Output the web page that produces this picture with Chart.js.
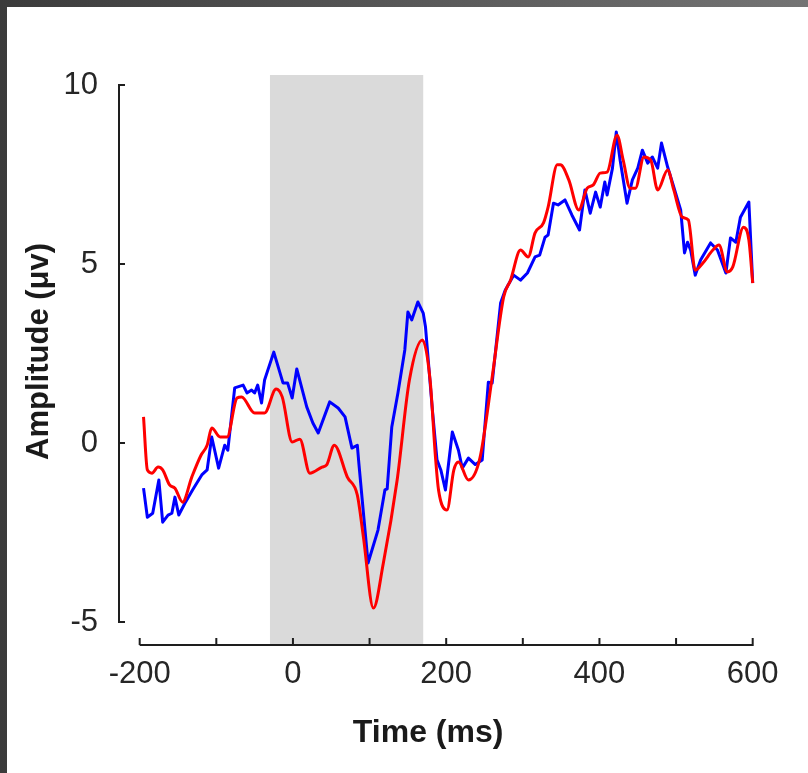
<!DOCTYPE html>
<html>
<head>
<meta charset="utf-8">
<script src="https://cdn.jsdelivr.net/npm/chart.js@4.4.1/dist/chart.umd.min.js"></script>
<style>
    html, body { margin: 0; padding: 0; }
    body {
        width: 808px; height: 773px; overflow: hidden; position: relative;
        background: linear-gradient(to right, #3b3b3b, #747474);
    }
    #paper { position: absolute; left: 7px; top: 7px; right: 0; bottom: 0; background: #fff; }
    #erpChart { position: absolute; left: 0; top: 0; }
</style>
</head>
<body>
<div id="paper"></div>
<canvas id="erpChart" width="808" height="773"></canvas>
<script>
// Values (time in ms, amplitude in µV)
const redTimes = [-195, -190, -184, -176, -170, -161, -154, -144, -132, -120, -112, -106, -95, -86, -73, -67, -50, -37, -22, -14,
    -1, 9, 22, 38, 44, 54, 71, 84, 92, 105, 118, 136, 152, 169, 179, 186, 190, 201, 210, 216,
    229, 244, 260, 275, 284, 297, 307, 316, 327, 333, 345, 349, 360, 373, 384, 392, 401, 410, 423, 431,
    440, 447, 458, 467, 476, 489, 497, 508, 516, 525, 535, 548, 556, 567, 574, 588, 595, 600];
const redValues = [0.73, -0.75, -0.84, -0.67, -0.75, -1.17, -1.26, -1.65, -0.95, -0.34, -0.06, 0.42, 0.17, 0.17, 1.26, 1.29, 0.84, 0.84, 1.51, 1.29,
    0.03, 0.11, -0.84, -0.67, -0.61, -0.06, -0.95, -1.45, -2.63, -4.61, -3.35, -1.03, 1.76, 2.88, 1.76, -0.39, -1.31, -1.87, -0.75, -0.53,
    -1.03, -0.42, 1.84, 4.08, 4.55, 5.39, 5.2, 5.87, 6.15, 6.59, 7.77, 7.77, 7.35, 6.51, 7.12, 7.21, 7.54, 7.57, 8.6, 7.9,
    7.12, 7.12, 7.99, 7.9, 7.07, 7.63, 7.07, 6.31, 6.23, 4.83, 5.03, 5.39, 5.53, 4.78, 4.92, 6.03, 5.67, 4.47];

const blueTimes = [-195, -190, -183, -175, -170, -163, -158, -154, -149, -141, -131, -119, -112, -106, -97, -89, -85, -76, -65, -60,
    -54, -50, -46, -41, -37, -25, -13, -7, -1, 5, 18, 26, 33, 48, 59, 68, 77, 84, 86, 98,
    111, 120, 123, 129, 137, 146, 150, 155, 163, 170, 173, 182, 188, 193, 199, 208, 216, 221, 229, 238,
    247, 255, 260, 271, 277, 288, 297, 306, 316, 322, 329, 333, 340, 346, 355, 364, 374, 381, 388, 395,
    401, 407, 410, 417, 422, 427, 436, 443, 450, 456, 463, 469, 476, 481, 489, 495, 506, 511, 515, 519,
    525, 532, 545, 554, 565, 571, 578, 584, 595, 600];
const blueValues = [-1.26, -2.07, -1.96, -1.03, -2.21, -2.01, -1.96, -1.51, -2.01, -1.68, -1.31, -0.89, -0.75, 0.17, -0.7, -0.06, -0.2, 1.54, 1.62, 1.4,
    1.48, 1.4, 1.62, 1.12, 1.76, 2.54, 1.68, 1.68, 1.26, 2.07, 1.01, 0.56, 0.28, 1.15, 0.98, 0.73, -0.14, -0.06, -0.56, -3.35,
    -2.43, -1.31, -1.28, 0.45, 1.4, 2.6, 3.66, 3.44, 3.94, 3.63, 3.24, 0.92, -0.47, -0.75, -1.31, 0.31, -0.2, -0.7, -0.42, -0.6,
    -0.47, 1.7, 1.68, 3.91, 4.27, 4.69, 4.55, 4.75, 5.2, 5.25, 5.75, 5.81, 6.7, 6.65, 6.79, 6.37, 5.95, 7.07, 6.42, 7.01,
    6.59, 7.29, 6.93, 7.68, 8.69, 7.9, 6.7, 7.35, 7.68, 8.18, 7.82, 7.99, 7.68, 8.38, 7.71, 7.29, 6.51, 5.31, 5.61, 5.39,
    4.69, 5.11, 5.59, 5.39, 4.75, 5.73, 5.61, 6.31, 6.73, 4.47];

const xTicks = [-200, -100, 0, 100, 200, 300, 400, 500, 600];
const yTicks = [-5, 0, 5, 10];
const stimWindow = [-30, 170];   // grey band

const FONT = '"Liberation Sans", Arial, Helvetica, sans-serif';
const AXIS_COLOR = '#1e1e1e';

const toPoints = (times, values) => times.map((t, i) => ({ x: t, y: values[i] }));

// grey stimulus band behind the traces
const bandPlugin = {
    id: 'band',
    beforeDatasetsDraw(chart) {
        const { ctx, chartArea, scales } = chart;
        const x0 = scales.x.getPixelForValue(stimWindow[0]);
        const x1 = scales.x.getPixelForValue(stimWindow[1]);
        ctx.save();
        ctx.fillStyle = '#dadada';
        ctx.fillRect(x0, chartArea.top, x1 - x0, chartArea.bottom - chartArea.top);
        ctx.restore();
    }
};

// MATLAB style offset axes with inward ticks
const axesPlugin = {
    id: 'offsetAxes',
    afterDraw(chart) {
        const { ctx, chartArea, scales } = chart;
        const xs = scales.x, ys = scales.y;
        ctx.save();
        ctx.strokeStyle = AXIS_COLOR;
        ctx.lineWidth = 2;
        ctx.lineCap = 'butt';

        // y axis
        const ax = chartArea.left;
        const yTop = ys.getPixelForValue(yTicks[yTicks.length - 1]);
        const yBot = ys.getPixelForValue(yTicks[0]);
        ctx.beginPath();
        ctx.moveTo(ax, yTop - 1);
        ctx.lineTo(ax, yBot + 1);
        yTicks.forEach(v => {
            const py = ys.getPixelForValue(v);
            ctx.moveTo(ax, py);
            ctx.lineTo(ax + 6, py);
        });
        ctx.stroke();

        // x axis
        const ay = chartArea.bottom;
        const xL = xs.getPixelForValue(xTicks[0]);
        const xR = xs.getPixelForValue(xTicks[xTicks.length - 1]);
        ctx.beginPath();
        ctx.moveTo(xL, ay);
        ctx.lineTo(xR + 1, ay);
        xTicks.forEach(v => {
            const px = xs.getPixelForValue(v);
            ctx.moveTo(px, ay);
            ctx.lineTo(px, ay - 7);
        });
        ctx.stroke();
        ctx.restore();
    }
};

new Chart(document.getElementById('erpChart').getContext('2d'), {
    type: 'line',
    data: {
        datasets: [
            {
                label: 'red',
                data: toPoints(redTimes, redValues),
                borderColor: '#ff0000',
                borderWidth: 3,
                borderJoinStyle: 'round',
                pointRadius: 0,
                cubicInterpolationMode: 'monotone',
                fill: false,
                order: 0
            },
            {
                label: 'blue',
                data: toPoints(blueTimes, blueValues),
                borderColor: '#0000ff',
                borderWidth: 3,
                borderJoinStyle: 'round',
                pointRadius: 0,
                tension: 0,
                fill: false,
                order: 1
            }
        ]
    },
    options: {
        responsive: false,
        animation: false,
        events: [],
        layout: { padding: { top: 75, right: 53, bottom: 0, left: 0 } },
        plugins: {
            legend: { display: false },
            tooltip: { enabled: false }
        },
        scales: {
            x: {
                type: 'linear',
                min: -227,
                max: 603,
                grid: { display: false, drawTicks: false },
                border: { display: false },
                afterBuildTicks: (scale) => { scale.ticks = xTicks.map(v => ({ value: v })); },
                afterFit: (scale) => { scale.height = 128; },
                ticks: {
                    autoSkip: false,
                    maxRotation: 0,
                    padding: 11,
                    color: '#262626',
                    font: { family: FONT, size: 31 },
                    callback: (v) => (v % 200 === 0 ? String(v) : '')
                },
                title: {
                    display: true,
                    text: 'Time (ms)\u00a0\u00a0',
                    color: '#1a1a1a',
                    font: { family: FONT, size: 32, weight: 'bold' },
                    padding: { top: 0, bottom: 21 }
                }
            },
            y: {
                type: 'linear',
                min: -5.64,
                max: 10.28,
                grid: { display: false, drawTicks: false },
                border: { display: false },
                afterBuildTicks: (scale) => { scale.ticks = yTicks.map(v => ({ value: v })); },
                afterFit: (scale) => { scale.width = 119; },
                ticks: {
                    padding: 21,
                    color: '#262626',
                    font: { family: FONT, size: 31 },
                    callback: (v) => String(v)
                },
                title: {
                    display: true,
                    text: '\u00a0\u00a0Amplitude (\u03bcv)',
                    color: '#1a1a1a',
                    font: { family: FONT, size: 31, weight: 'bold' },
                    padding: { top: 21, bottom: 0 }
                }
            }
        }
    },
    plugins: [bandPlugin, axesPlugin]
});
</script>
</body>
</html>
